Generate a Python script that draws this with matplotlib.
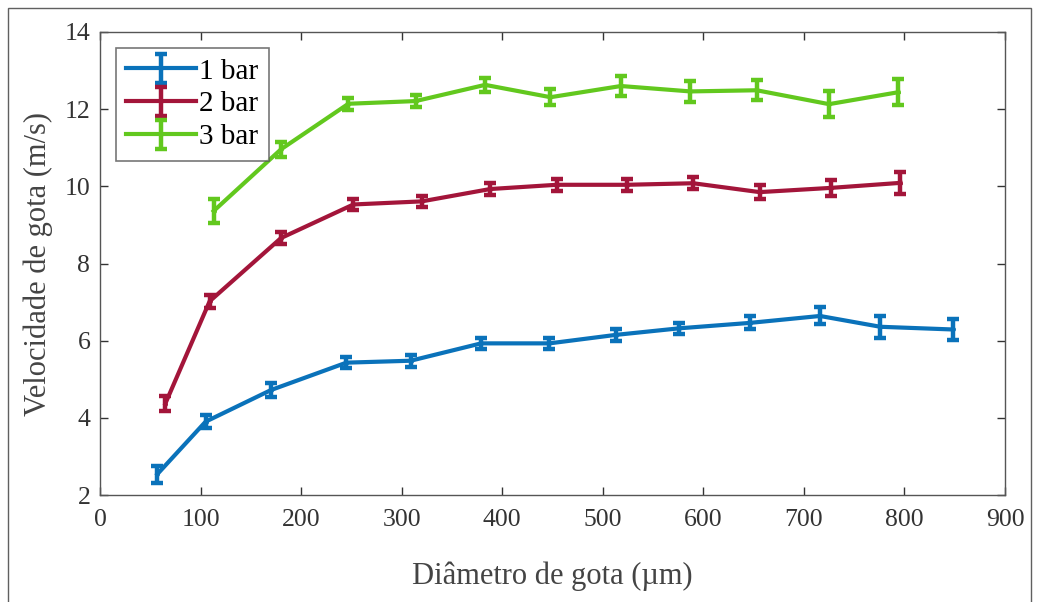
import matplotlib
matplotlib.use("Agg")
import matplotlib.pyplot as plt
from matplotlib.patches import Rectangle

plt.rcParams['font.family'] = ['Liberation Serif', 'DejaVu Serif']

# data (diameter in um, velocity in m/s)
d1 = [57, 105, 170, 245, 309, 379, 447, 513, 576, 646, 716, 776, 848]
v1 = [2.54, 3.90, 4.72, 5.43, 5.48, 5.93, 5.93, 6.15, 6.32, 6.46, 6.64, 6.36, 6.29]
e1 = [0.22, 0.17, 0.17, 0.15, 0.15, 0.15, 0.15, 0.15, 0.15, 0.17, 0.22, 0.28, 0.28]

d2 = [65, 109, 180, 252, 320, 388, 454, 524, 590, 656, 727, 796]
v2 = [4.37, 7.02, 8.66, 9.53, 9.61, 9.93, 10.04, 10.04, 10.08, 9.85, 9.96, 10.09]
e2 = [0.20, 0.17, 0.15, 0.15, 0.15, 0.15, 0.15, 0.15, 0.15, 0.18, 0.2, 0.28]

d3 = [113, 180, 247, 314, 383, 448, 518, 587, 653, 725, 794]
v3 = [9.36, 10.96, 12.14, 12.21, 12.63, 12.31, 12.6, 12.46, 12.49, 12.13, 12.44]
e3 = [0.32, 0.2, 0.15, 0.15, 0.18, 0.2, 0.26, 0.28, 0.26, 0.33, 0.33]

labels = ['1 bar', '2 bar', '3 bar']
colors = ['#0A72BA', '#A3153A', '#62C81E']

fig = plt.figure(figsize=(10.42, 6.02), dpi=100)
fig.patches.append(Rectangle((8/1042, -0.01), 1023/1042, 1 - 8/602 + 0.01,
                             transform=fig.transFigure, fill=False,
                             edgecolor='#606060', linewidth=1.0))
ax = fig.add_axes([100/1042, 1 - 495/602, 905/1042, 463/602])

for d, v, e, lab, c in zip([d1, d2, d3], [v1, v2, v3], [e1, e2, e3], labels, colors):
    ax.errorbar(d, v, yerr=e, color=c, linewidth=3.0, elinewidth=3.2,
                capsize=4.5, capthick=3.2, marker='.', markersize=5, label=lab)

ax.set_xlim(0, 900)
ax.set_ylim(2, 14)
ax.set_xticks(range(0, 901, 100))
ax.set_yticks(range(2, 15, 2))
ax.tick_params(direction='in', top=True, right=True, length=6, width=1,
               labelsize=18.5, colors='#333333')
ax.tick_params(axis='x', pad=10)
ax.tick_params(axis='y', pad=7)
for s in ax.spines.values():
    s.set_color('#555555')
    s.set_linewidth(1.0)

ax.set_xlabel('Diâmetro de gota (µm)', fontsize=22, color='#444444', labelpad=22)
ax.set_ylabel('Velocidade de gota (m/s)', fontsize=22, color='#444444', labelpad=8)

leg = ax.legend(loc='upper left', fontsize=21, frameon=True, fancybox=False,
                edgecolor='#555555', handlelength=2.4, handletextpad=0.1,
                borderpad=0.35, labelspacing=0.22, borderaxespad=0.55)
leg.get_frame().set_linewidth(1.2)

fig.savefig('out.png', dpi=100)
